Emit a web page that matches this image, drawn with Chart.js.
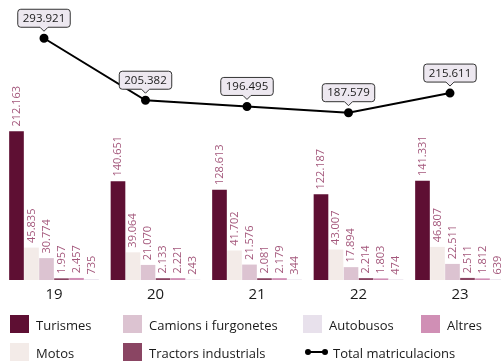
<!DOCTYPE html>
<html>
<head>
<meta charset="utf-8">
<script src="https://cdn.jsdelivr.net/npm/chart.js@4/dist/chart.umd.min.js"></script>
<style>
    body { margin: 0; background: #fff; font-family: "Open Sans", sans-serif; }
    #wrap { position: relative; width: 501px; height: 361px; overflow: hidden; }
    #chartBox { position: absolute; left: 0; top: 0; width: 501px; height: 320px; }
    .leg { position: absolute; font-size: 13px; color: #1a1a1a; line-height: 18px; white-space: nowrap; }
    .sw { position: absolute; width: 19px; height: 18px; }
    .lineIcon { position: absolute; width: 23px; height: 8px; }
    .lineIcon .bar { position: absolute; left: 2px; right: 2px; top: 3px; height: 2px; background: #000; }
    .lineIcon .dot { position: absolute; top: 1px; width: 6px; height: 6px; border-radius: 50%; background: #000; }
</style>
</head>
<body>
<div id="wrap">
    <div id="chartBox"><canvas id="myChart"></canvas></div>
    <div id="legend"></div>
</div>
<script>
const years = ['19', '20', '21', '22', '23'];

const turismes = [212163, 140651, 128613, 122187, 141331];
const motos = [45835, 39064, 41702, 43007, 46807];
const camions = [30774, 21070, 21576, 17894, 22511];
const tractors = [1957, 2133, 2081, 2214, 2511];
const altres = [2457, 2221, 2179, 1803, 1812];
const autobusos = [735, 243, 344, 474, 639];
const total = [293921, 205382, 196495, 187579, 215611];

const colTurismes = '#5e0f33';
const colMotos = '#f3ebe8';
const colCamions = '#dcc3d1';
const colTractors = '#8a4563';
const colAltres = '#d08fb5';
const colAutobusos = '#e8e1ec';

function fmt(v) {
    return String(v).replace(/\B(?=(\d{3})+(?!\d))/g, '.');
}

function pts(arr) {
    return years.map((y, i) => ({x: +y, y: arr[i]}));
}

function yearTicks(scale) {
    scale.ticks = years.map(y => ({value: +y}));
}

function barSet(label, arr, color) {
    return {
        type: 'bar',
        label: label,
        data: pts(arr),
        backgroundColor: color,
        xAxisID: 'x',
        yAxisID: 'y',
        barThickness: 15,
        maxBarThickness: 14,
        order: 2
    };
}

// value labels: rotated over bars, boxed over the line points
const labelPlugin = {
    id: 'labels',
    afterDatasetsDraw(chart) {
        const ctx = chart.ctx;
        chart.data.datasets.forEach((ds, di) => {
            const meta = chart.getDatasetMeta(di);
            if (ds.type === 'bar') {
                ctx.save();
                ctx.font = '11px "Open Sans", sans-serif';
                ctx.fillStyle = '#a4587c';
                ctx.textAlign = 'left';
                ctx.textBaseline = 'middle';
                meta.data.forEach((el, i) => {
                    ctx.save();
                    ctx.translate(el.x, el.y - 5);
                    ctx.rotate(-Math.PI / 2);
                    ctx.fillText(fmt(ds.data[i].y), 0, 0);
                    ctx.restore();
                });
                ctx.restore();
            } else {
                ctx.save();
                ctx.font = '11.5px "Open Sans", sans-serif';
                meta.data.forEach((el, i) => {
                    const txt = fmt(ds.data[i].y);
                    const w = ctx.measureText(txt).width + 10;
                    const h = 18;
                    const bx = el.x - w / 2;
                    const by = el.y - 11 - h;
                    ctx.beginPath();
                    const r = 3;
                    ctx.moveTo(bx + r, by);
                    ctx.lineTo(bx + w - r, by);
                    ctx.quadraticCurveTo(bx + w, by, bx + w, by + r);
                    ctx.lineTo(bx + w, by + h - r);
                    ctx.quadraticCurveTo(bx + w, by + h, bx + w - r, by + h);
                    ctx.lineTo(el.x + 4, by + h);
                    ctx.lineTo(el.x, by + h + 4);
                    ctx.lineTo(el.x - 4, by + h);
                    ctx.lineTo(bx + r, by + h);
                    ctx.quadraticCurveTo(bx, by + h, bx, by + h - r);
                    ctx.lineTo(bx, by + r);
                    ctx.quadraticCurveTo(bx, by, bx + r, by);
                    ctx.closePath();
                    ctx.fillStyle = '#ede8f0';
                    ctx.fill();
                    ctx.strokeStyle = '#333';
                    ctx.lineWidth = 1;
                    ctx.stroke();
                    ctx.fillStyle = '#1a1a1a';
                    ctx.textAlign = 'center';
                    ctx.textBaseline = 'middle';
                    ctx.fillText(txt, el.x, by + h / 2 + 0.5);
                });
                ctx.restore();
            }
        });
    }
};

const xMin = 18.468;
const xMax = 23.404;
const lineShift = 0.0985; // the total line sits a little left of each group
// Chart.js 4.4 splits each group between the two index axes (bars + line),
// so the bar axis is moved by half a group to keep the bars centred on the tick
const barShift = -0.4433;

const ctx = document.getElementById('myChart').getContext('2d');
const myChart = new Chart(ctx, {
    type: 'bar',
    data: {
        datasets: [
            barSet('Turismes', turismes, colTurismes),
            barSet('Motos', motos, colMotos),
            barSet('Camions i furgonetes', camions, colCamions),
            barSet('Tractors industrials', tractors, colTractors),
            barSet('Altres', altres, colAltres),
            barSet('Autobusos', autobusos, colAutobusos),
            {
                type: 'line',
                label: 'Total matriculacions',
                data: pts(total),
                borderColor: '#000',
                backgroundColor: '#000',
                borderWidth: 2,
                pointRadius: 3.5,
                tension: 0,
                xAxisID: 'x2',
                yAxisID: 'y2',
                order: 1
            }
        ]
    },
    options: {
        responsive: true,
        maintainAspectRatio: false,
        devicePixelRatio: 1,
        animation: false,
        layout: {padding: 0, autoPadding: false},
        plugins: {legend: {display: false}, tooltip: {enabled: false}},
        scales: {
            x: {
                type: 'linear',
                display: false,
                offset: false,
                min: xMin + barShift,
                max: xMax + barShift,
                afterBuildTicks: yearTicks
            },
            x2: {
                type: 'linear',
                axis: 'x',
                display: false,
                offset: false,
                min: xMin + lineShift,
                max: xMax + lineShift,
                afterBuildTicks: yearTicks
            },
            x3: {
                type: 'linear',
                axis: 'x',
                position: 'bottom',
                offset: false,
                min: xMin,
                max: xMax,
                grid: {display: false},
                border: {display: false},
                afterBuildTicks: yearTicks,
                afterFit: (scale) => { scale.height = 40; },
                ticks: {
                    padding: -2,
                    color: '#1a1a1a',
                    font: {family: '"Open Sans", sans-serif', size: 15},
                    callback: (v) => String(v)
                }
            },
            y: {
                display: false,
                min: 0,
                max: 400000
            },
            y2: {
                display: false,
                min: -51430,
                max: 348570
            }
        }
    },
    plugins: [labelPlugin]
});

// legend laid out in two rows like the original
const legendItems = [
    {label: 'Turismes', color: colTurismes, x: 10, y: 315},
    {label: 'Camions i furgonetes', color: colCamions, x: 123, y: 315},
    {label: 'Autobusos', color: colAutobusos, x: 303, y: 315},
    {label: 'Altres', color: colAltres, x: 421, y: 315},
    {label: 'Motos', color: colMotos, x: 10, y: 343},
    {label: 'Tractors industrials', color: colTractors, x: 123, y: 343},
    {label: 'Total matriculacions', line: true, x: 305, y: 343}
];

const legend = document.getElementById('legend');
legendItems.forEach(item => {
    if (item.line) {
        const ic = document.createElement('div');
        ic.className = 'lineIcon';
        ic.style.left = item.x + 'px';
        ic.style.top = (item.y + 5) + 'px';
        ic.innerHTML = '<div class="bar"></div><div class="dot" style="left:0"></div><div class="dot" style="right:0"></div>';
        legend.appendChild(ic);
    } else {
        const sw = document.createElement('div');
        sw.className = 'sw';
        sw.style.left = item.x + 'px';
        sw.style.top = item.y + 'px';
        sw.style.background = item.color;
        legend.appendChild(sw);
    }
    const t = document.createElement('div');
    t.className = 'leg';
    t.textContent = item.label;
    t.style.left = (item.line ? item.x + 28 : item.x + 26) + 'px';
    t.style.top = (item.y + 1) + 'px';
    legend.appendChild(t);
});
</script>
</body>
</html>
